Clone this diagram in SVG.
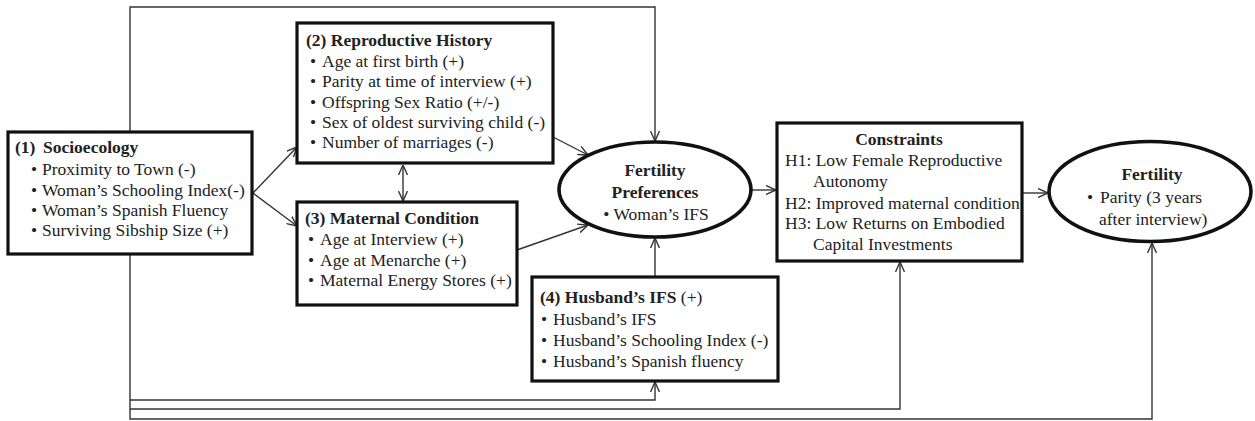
<svg xmlns="http://www.w3.org/2000/svg" width="1255" height="421" viewBox="0 0 1255 421">
<style>
text{font-family:"Liberation Serif","Times New Roman",serif;font-size:17.5px;fill:#222}
.b{font-weight:bold}
.c{text-anchor:middle}
.box{fill:#fff;stroke:#111;stroke-width:3.2}
.ell{fill:#fff;stroke:#111;stroke-width:3.6}
.ln{fill:none;stroke:#333;stroke-width:1.4}
</style>
<defs>
<marker id="ah" viewBox="0 0 10 10" markerWidth="10" markerHeight="10" markerUnits="userSpaceOnUse" refX="10" refY="5" orient="auto-start-reverse">
<path d="M0,0.5 L10,5 L0,9.5" fill="none" stroke="#333" stroke-width="1.4"/>
</marker>
</defs>
<g id="connectors">
<polyline class="ln" points="130,254 130,7 655,7 655,141" marker-end="url(#ah)"/>
<polyline class="ln" points="130,254 130,419 1152,419 1152,243" marker-end="url(#ah)"/>
<polyline class="ln" points="130,400 655,400 655,382" marker-end="url(#ah)"/>
<polyline class="ln" points="130,409 900,409 900,262" marker-end="url(#ah)"/>
<line class="ln" x1="253" y1="193" x2="297" y2="147" marker-end="url(#ah)"/>
<line class="ln" x1="253" y1="193" x2="297" y2="226" marker-end="url(#ah)"/>
<line class="ln" x1="403" y1="165" x2="403" y2="201" marker-start="url(#ah)" marker-end="url(#ah)"/>
<line class="ln" x1="553" y1="137" x2="588" y2="155" marker-end="url(#ah)"/>
<line class="ln" x1="517" y1="250" x2="588" y2="225" marker-end="url(#ah)"/>
<line class="ln" x1="655" y1="277" x2="655" y2="238" marker-end="url(#ah)"/>
<line class="ln" x1="752" y1="190" x2="776" y2="190" marker-end="url(#ah)"/>
<line class="ln" x1="1023" y1="193" x2="1048" y2="193" marker-end="url(#ah)"/>
</g>
<g id="socioecology">
<rect class="box" x="8" y="132" width="244" height="122"/>
<text class="b" x="15" y="153">(1)<tspan x="43">Socioecology</tspan></text>
<text x="31" y="175">•<tspan x="42">Proximity to Town (-)</tspan></text>
<text x="31" y="196">•<tspan x="42">Woman’s Schooling Index(-)</tspan></text>
<text x="31" y="216">•<tspan x="42">Woman’s Spanish Fluency</tspan></text>
<text x="31" y="236">•<tspan x="42">Surviving Sibship Size (+)</tspan></text>
</g>
<g id="reproductive-history">
<rect class="box" x="297" y="23" width="256" height="140"/>
<text class="b" x="306" y="46">(2) Reproductive History</text>
<text x="310" y="67">•<tspan x="322">Age at first birth (+)</tspan></text>
<text x="310" y="87">•<tspan x="322">Parity at time of interview (+)</tspan></text>
<text x="310" y="108">•<tspan x="322">Offspring Sex Ratio (+/-)</tspan></text>
<text x="310" y="128">•<tspan x="322">Sex of oldest surviving child (-)</tspan></text>
<text x="310" y="148">•<tspan x="322">Number of marriages (-)</tspan></text>
</g>
<g id="maternal-condition">
<rect class="box" x="297" y="202" width="220" height="103"/>
<text class="b" x="305" y="224">(3) Maternal Condition</text>
<text x="308" y="245">•<tspan x="320">Age at Interview (+)</tspan></text>
<text x="308" y="266">•<tspan x="320">Age at Menarche (+)</tspan></text>
<text x="308" y="286">•<tspan x="320">Maternal Energy Stores (+)</tspan></text>
</g>
<g id="husbands-ifs">
<rect class="box" x="532" y="277" width="246" height="104"/>
<text x="540" y="303"><tspan class="b">(4) Husband’s IFS</tspan> (+)</text>
<text x="541" y="325">•<tspan x="553">Husband’s IFS</tspan></text>
<text x="541" y="346">•<tspan x="553">Husband’s Schooling Index (-)</tspan></text>
<text x="541" y="367">•<tspan x="553">Husband’s Spanish fluency</tspan></text>
</g>
<g id="fertility-preferences">
<ellipse class="ell" cx="655" cy="189.5" rx="96" ry="47.5"/>
<text class="b c" x="655" y="176">Fertility</text>
<text class="b c" x="655" y="198">Preferences</text>
<text class="c" x="656" y="220">• Woman’s IFS</text>
</g>
<g id="constraints">
<rect class="box" x="777" y="123" width="245" height="138"/>
<text class="b c" x="899" y="145">Constraints</text>
<text x="785" y="166">H1: Low Female Reproductive</text>
<text x="813" y="187">Autonomy</text>
<text x="785" y="209">H2: Improved maternal condition</text>
<text x="785" y="229">H3: Low Returns on Embodied</text>
<text x="813" y="250">Capital Investments</text>
</g>
<g id="fertility">
<ellipse class="ell" cx="1150" cy="191.5" rx="101" ry="50"/>
<text class="b c" x="1152" y="180">Fertility</text>
<text x="1087" y="203">•<tspan x="1100">Parity (3 years</tspan></text>
<text x="1099" y="225">after interview)</text>
</g>
</svg>
